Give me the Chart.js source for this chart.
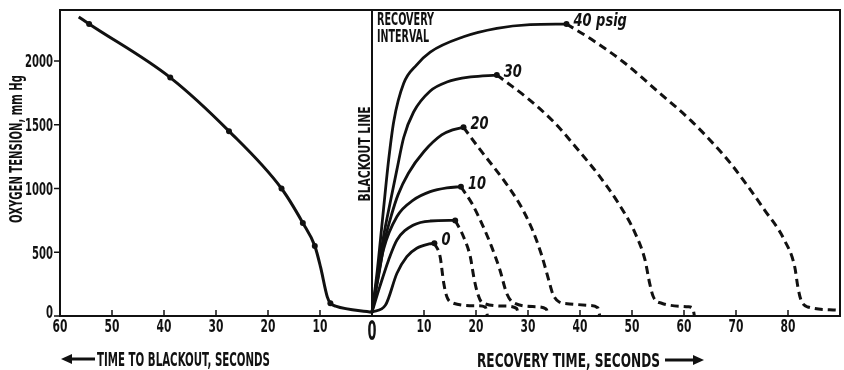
<!DOCTYPE html>
<html>
<head>
<meta charset="utf-8">
<script src="https://cdn.jsdelivr.net/npm/chart.js@4.4.1/dist/chart.umd.min.js"></script>
<style>
  html, body { margin: 0; background: #fff; }
</style>
</head>
<body>
<canvas id="chart" width="844" height="370"></canvas>
<script>
// time to blackout (negative = seconds before blackout), oxygen tension mm Hg
const blackoutCurve = [[-56.4, 2345], [-54.4, 2290], [-38.8, 1870], [-27.5, 1450], [-17.4, 1000],
  [-13.3, 730], [-11, 550], [-9.9, 385], [-8.6, 150], [-8, 100], [-7, 78], [0, 30]]
const blackoutDots = [[-54.4, 2290], [-38.8, 1870], [-27.5, 1450], [-17.4, 1000], [-13.3, 730], [-11, 550], [-8, 100]]

// recovery curves: solid rise during the recovery interval, dashed decay afterwards
const rise40 = [[0, 30], [1, 350], [2, 750], [3.2, 1224], [4.2, 1530], [6.1, 1825], [8.6, 1970], [11.2, 2070],
  [17.6, 2190], [24, 2256], [30.4, 2285], [37.4, 2290]]
const fall40 = [[37.4, 2290], [42.2, 2170], [48.6, 1984], [55, 1760], [61.4, 1530], [65.9, 1340], [69.1, 1190],
  [75.5, 831], [79.3, 596], [81.3, 384], [81.9, 227], [82.5, 125], [83.8, 71], [89.3, 47]]

const rise30 = [[0, 30], [1, 300], [2.2, 620], [3.6, 910], [4.8, 1150], [6.1, 1400], [8, 1600], [11.2, 1765],
  [14.4, 1835], [19, 1875], [24, 1890]]
const fall30 = [[24, 1890], [26, 1830], [30, 1705], [35, 1520], [39.7, 1300], [43.5, 1110], [47.4, 884],
  [50.6, 650], [52.5, 440], [53.4, 256], [54.1, 151], [55.7, 100], [60.8, 73], [61.7, 60], [62, 0]]

const rise20 = [[0, 30], [1.2, 300], [2.5, 600], [3.8, 800], [5, 950], [7, 1120], [10, 1290], [13.4, 1420],
  [15.5, 1460], [17.6, 1480]]
const fall20 = [[17.6, 1480], [20.5, 1320], [25.6, 1050], [28.5, 870], [30.7, 690], [32.6, 480], [34, 280],
  [34.8, 170], [36, 110], [38, 95], [41.6, 84], [43.4, 65], [43.8, 0]]

const rise10 = [[0, 30], [1, 270], [2.2, 520], [4.8, 780], [8, 910], [11.2, 975], [14.4, 1005], [17.1, 1014]]
const fall10 = [[17.1, 1014], [19.2, 884], [21.1, 727], [23, 544], [24.6, 361], [25.9, 178], [27.2, 104],
  [31.4, 73], [33.5, 55], [33.9, 0]]

const rise5 = [[0, 30], [1.5, 230], [3.2, 440], [4.8, 596], [8, 714], [11.2, 745], [16, 750]]
const fall5 = [[16, 750], [17.6, 622], [18.9, 465], [19.6, 300], [20.3, 178], [21.2, 104], [25.6, 78], [27.8, 60], [28.2, 0]]

const rise0 = [[0, 30], [2.6, 86], [4.8, 335], [6.7, 465], [8.6, 531], [11, 565], [12, 570]]
const fall0 = [[12, 570], [13.1, 465], [13.8, 256], [14.4, 151], [15.4, 104], [20, 80], [21.8, 70], [22.2, 0]]

const curveLabels = ['40 psig', '30', '20', '10', '', '0']
const rises = [rise40, rise30, rise20, rise10, rise5, rise0]
const falls = [fall40, fall30, fall20, fall10, fall5, fall0]

const xTicks = [-60, -50, -40, -30, -20, -10, 0, 10, 20, 30, 40, 50, 60, 70, 80]
const yTicks = [0, 500, 1000, 1500, 2000]

const FONT = '"DejaVu Sans Condensed", "DejaVu Sans", sans-serif'
const INK = '#111'

const toXY = arr => arr.map(([x, y]) => ({x, y}))

const datasets = [
  {data: toXY(blackoutCurve), borderColor: INK, borderWidth: 3, pointRadius: 0},
  {data: toXY(blackoutDots), showLine: false, pointRadius: 3, pointBackgroundColor: INK, pointBorderWidth: 0}
]
rises.forEach((r, i) => {
  datasets.push({
    data: toXY(r), borderColor: INK, borderWidth: 2.8, peakLabel: curveLabels[i],
    pointRadius: c => c.dataIndex === r.length - 1 ? 3 : 0, pointBackgroundColor: INK, pointBorderWidth: 0
  })
  datasets.push({data: toXY(falls[i]), borderColor: INK, borderWidth: 3, borderDash: [8, 5], pointRadius: 0})
})

// condensed lettering: squeeze the glyphs horizontally, to a fixed width when one is given
function letter(ctx, str, x, y, opt) {
  const o = Object.assign({size: 16, sx: 0.7, width: 0, align: 'center', italic: false, rot: 0}, opt)
  ctx.save()
  ctx.font = (o.italic ? 'italic ' : '') + 'bold ' + o.size + 'px ' + FONT
  const k = o.width ? o.width / ctx.measureText(str).width : o.sx
  ctx.translate(x, y)
  if (o.rot) ctx.rotate(o.rot)
  ctx.scale(k, 1)
  ctx.textAlign = o.align
  ctx.textBaseline = 'alphabetic'
  ctx.fillText(str, 0, o.size * 0.36)
  ctx.restore()
}

function arrow(ctx, x1, x2, y) { // shaft from x1 to x2, head at x2
  const d = x2 > x1 ? 1 : -1
  ctx.beginPath()
  ctx.moveTo(x1, y)
  ctx.lineTo(x2 - d * 8, y)
  ctx.lineWidth = 3
  ctx.stroke()
  ctx.beginPath()
  ctx.moveTo(x2, y)
  ctx.lineTo(x2 - d * 11, y - 5)
  ctx.lineTo(x2 - d * 11, y + 5)
  ctx.closePath()
  ctx.fill()
}

const decorations = {
  id: 'decorations',
  afterDraw(chart) {
    const {ctx, chartArea: a, scales: {x, y}} = chart
    ctx.save()
    ctx.strokeStyle = INK
    ctx.fillStyle = INK

    // frame and blackout line
    ctx.lineWidth = 2
    ctx.strokeRect(a.left, a.top, a.right - a.left, a.bottom - a.top)
    const x0 = x.getPixelForValue(0)
    ctx.beginPath()
    ctx.moveTo(x0, a.top)
    ctx.lineTo(x0, a.bottom)
    ctx.stroke()

    // time axis: inward ticks, labels in seconds either side of blackout
    ctx.lineWidth = 1.5
    x.ticks.forEach(t => {
      const px = x.getPixelForValue(t.value)
      if (t.value !== 0 && t.value !== -60) {
        ctx.beginPath()
        ctx.moveTo(px, a.bottom)
        ctx.lineTo(px, a.bottom - 6)
        ctx.stroke()
      }
      if (t.value === 0) letter(ctx, '0', px, a.bottom + 14, {size: 27, width: 9})
      else letter(ctx, String(Math.abs(t.value)), px, a.bottom + 10, {size: 18, sx: 0.66})
    })

    // oxygen axis: outward ticks
    y.ticks.forEach(t => {
      const py = y.getPixelForValue(t.value)
      ctx.beginPath()
      ctx.moveTo(a.left - 6, py)
      ctx.lineTo(a.left, py)
      ctx.stroke()
      letter(ctx, String(t.value), a.left - 7, Math.min(py, a.bottom - 4), {size: 18, sx: 0.62, align: 'right'})
    })

    // axis titles
    letter(ctx, 'OXYGEN TENSION, mm Hg', 16, 149, {size: 18, width: 148, rot: -Math.PI / 2})
    arrow(ctx, 95, a.left + 1, 359)
    letter(ctx, 'TIME TO BLACKOUT, SECONDS', 97, 359, {size: 19, width: 173, align: 'left'})
    letter(ctx, 'RECOVERY TIME, SECONDS', 660, 360, {size: 19, width: 183, align: 'right'})
    arrow(ctx, 665, 704, 360)

    // captions inside the plot
    letter(ctx, 'BLACKOUT LINE', x0 - 7, 154, {size: 15, width: 95, rot: -Math.PI / 2})
    letter(ctx, 'RECOVERY', x0 + 5, a.top + 9, {size: 17, width: 57, align: 'left'})
    letter(ctx, 'INTERVAL', x0 + 5, a.top + 26, {size: 17, width: 52, align: 'left'})

    // pressure labels beside each peak
    chart.data.datasets.forEach((ds, i) => {
      if (!ds.peakLabel) return
      const pts = chart.getDatasetMeta(i).data
      const p = pts[pts.length - 1]
      letter(ctx, ds.peakLabel, p.x + 7, p.y - 4, {size: 17, sx: 0.85, italic: true, align: 'left'})
    })
    ctx.restore()
  }
}

new Chart(document.getElementById('chart'), {
  type: 'line',
  data: {datasets},
  plugins: [decorations],
  options: {
    responsive: false,
    animation: false,
    cubicInterpolationMode: 'monotone',
    layout: {padding: {top: 10, right: 2, left: 0, bottom: 0}},
    plugins: {legend: {display: false}, tooltip: {enabled: false}},
    scales: {
      x: {
        type: 'linear', min: -60, max: 90,
        afterFit: s => { s.height = 54 },
        afterBuildTicks: s => { s.ticks = xTicks.map(v => ({value: v})) },
        grid: {display: false},
        border: {display: false},
        ticks: {display: false}
      },
      y: {
        min: 0, max: 2400,
        afterFit: s => { s.width = 60 },
        afterBuildTicks: s => { s.ticks = yTicks.map(v => ({value: v})) },
        grid: {display: false},
        border: {display: false},
        ticks: {display: false}
      }
    }
  }
})
</script>
</body>
</html>
